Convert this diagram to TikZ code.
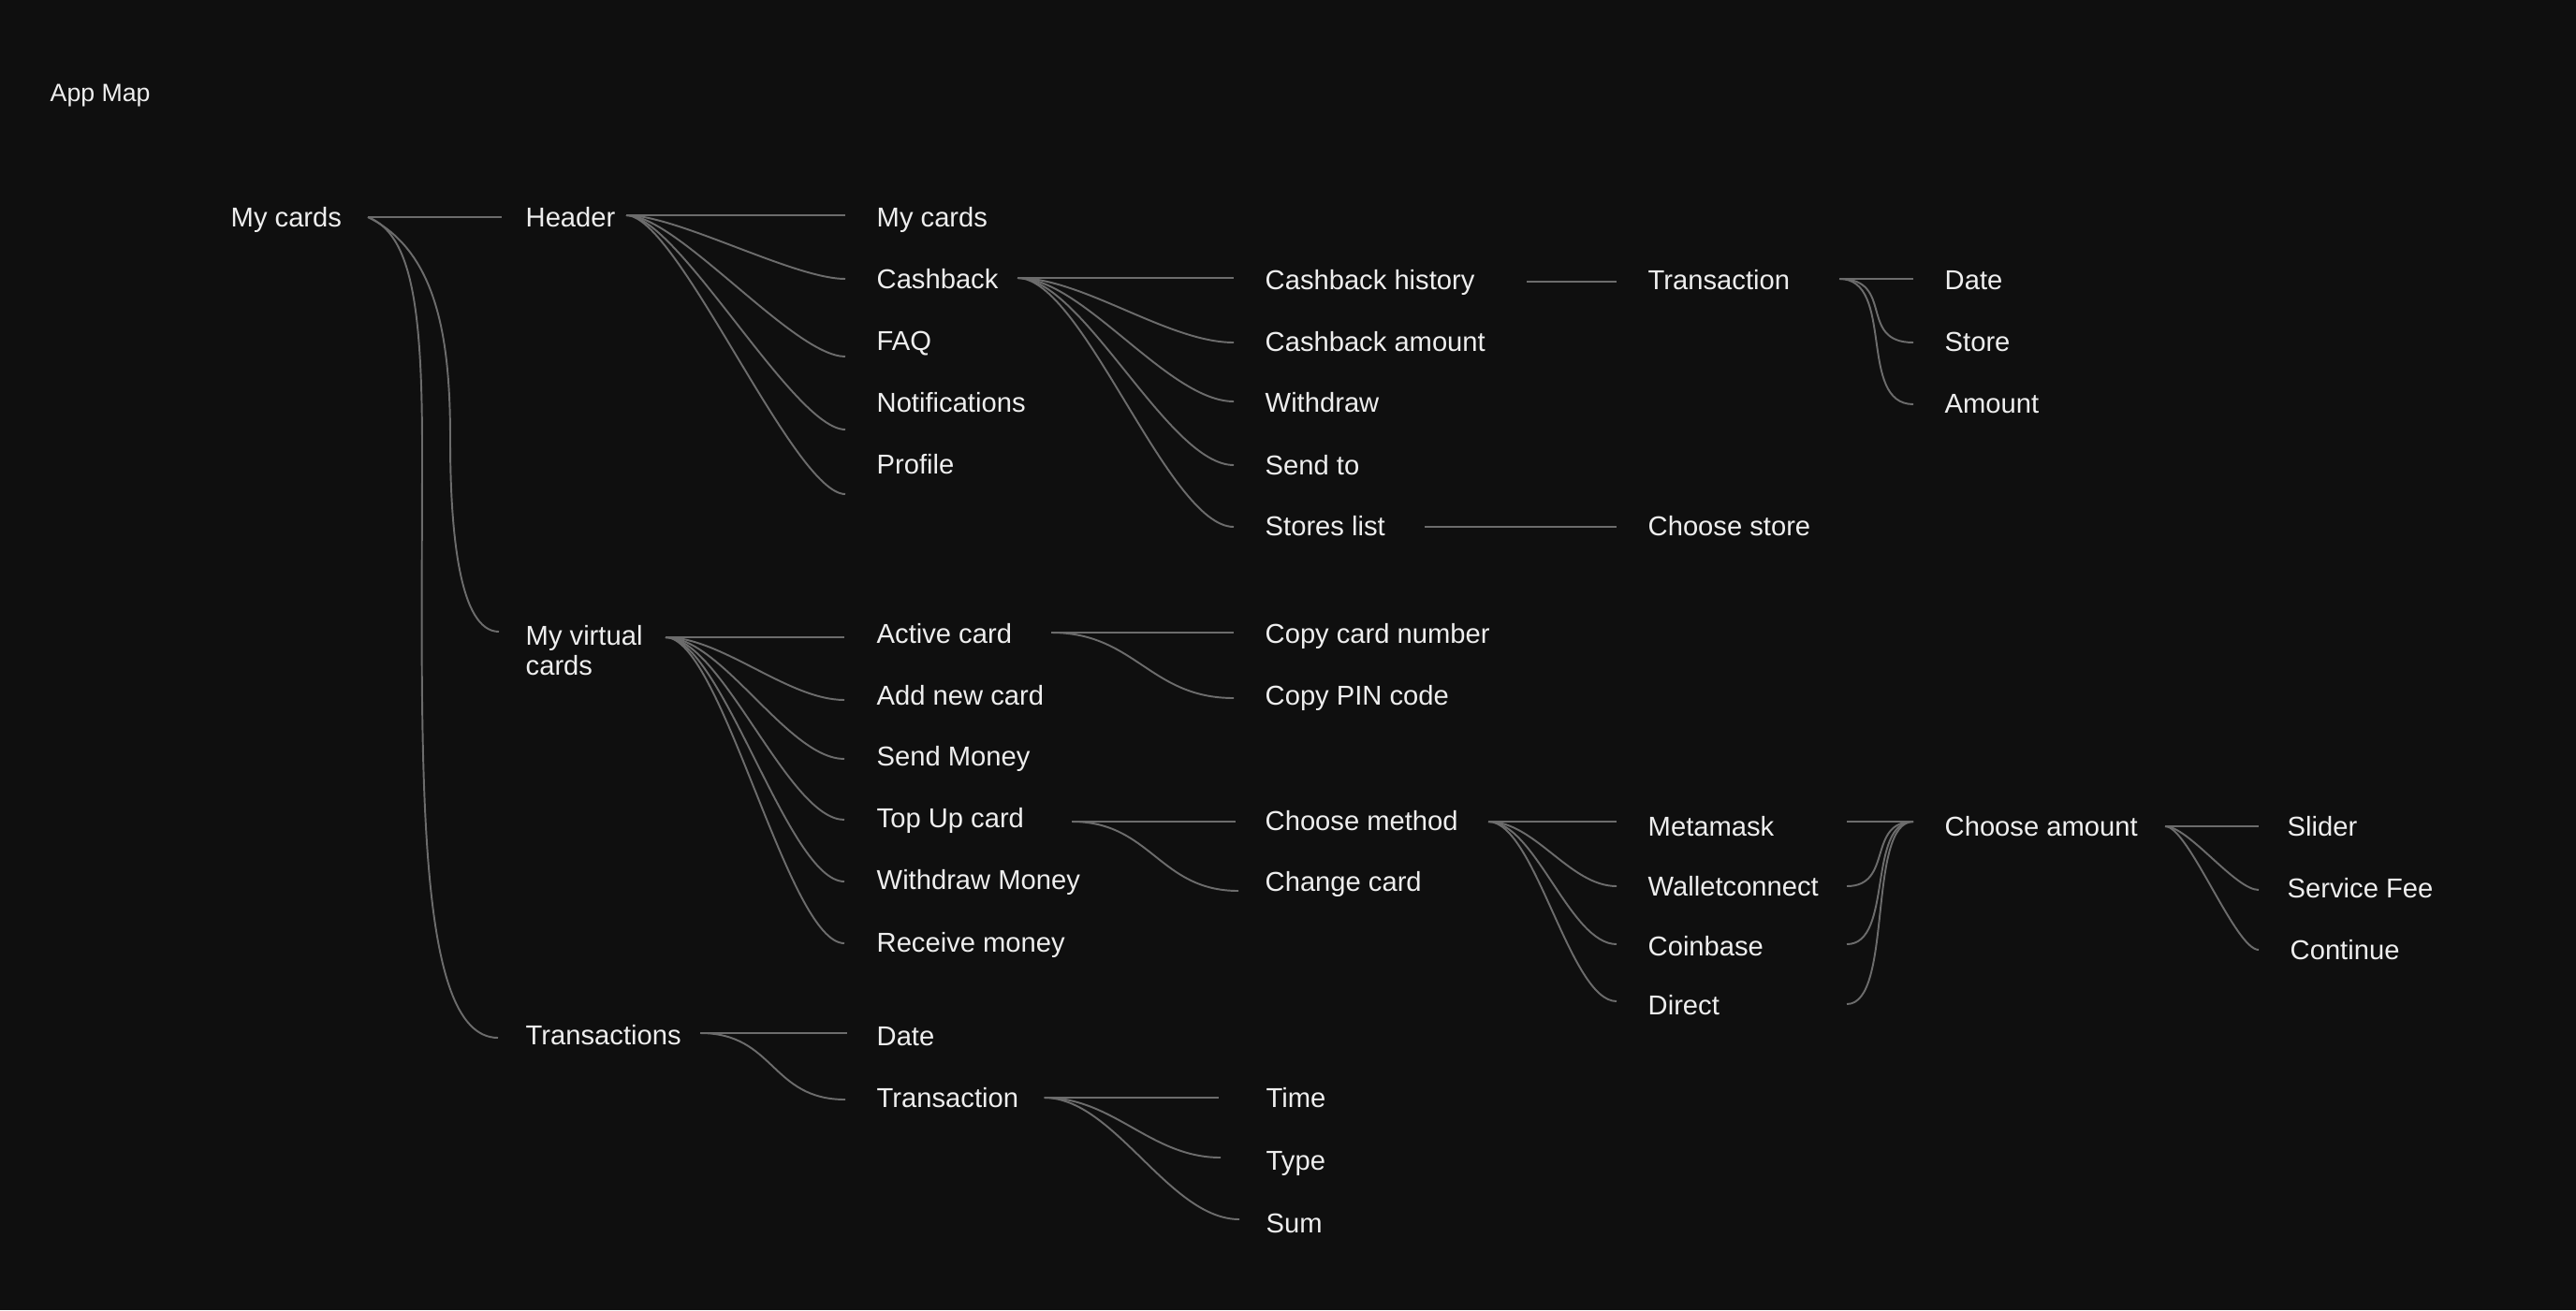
\documentclass[tikz,border=0pt]{standalone}
\usepackage{fontspec}
\setmainfont{Liberation Sans}
\definecolor{bgdark}{RGB}{15,15,15}
\definecolor{wire}{RGB}{108,108,108}
\definecolor{ink}{RGB}{238,238,238}
\tikzset{
  item/.style={anchor=base west, inner sep=0pt, text=ink,
    font=\fontsize{8.3}{9.2}\selectfont},
  link/.style={draw=wire, line width=0.55pt},
}
\begin{document}
\begin{tikzpicture}
  \fill[bgdark] (0,0) rectangle (27.52,-14);
  \useasboundingbox (0,0) rectangle (27.52,-14);

  % labels
  \node[item, font=\fontsize{7.6}{9}\selectfont] (title) at (0.53,-1.08) {App Map};
  \node[item] (mc) at (2.46,-2.42) {My cards};
  \node[item] (hd) at (5.61,-2.42) {Header};
  \node[item, anchor=west, align=left] (mvc) at (5.61,-6.95) {My virtual\\cards};
  \node[item] (tr) at (5.61,-11.16) {Transactions};

  \node[item] (hmy) at (9.36,-2.42) {My cards};
  \node[item] (cb) at (9.36,-3.08) {Cashback};
  \node[item] (faq) at (9.36,-3.74) {FAQ};
  \node[item] (nt) at (9.36,-4.40) {Notifications};
  \node[item] (pf) at (9.36,-5.06) {Profile};
  \node[item] (ac) at (9.36,-6.87) {Active card};
  \node[item] (anc) at (9.36,-7.53) {Add new card};
  \node[item] (sm) at (9.36,-8.18) {Send Money};
  \node[item] (tu) at (9.36,-8.84) {Top Up card};
  \node[item] (wm) at (9.36,-9.50) {Withdraw Money};
  \node[item] (rm) at (9.36,-10.17) {Receive money};
  \node[item] (dt) at (9.36,-11.17) {Date};
  \node[item] (tx) at (9.36,-11.83) {Transaction};

  \node[item] (cbh) at (13.51,-3.09) {Cashback history};
  \node[item] (cba) at (13.51,-3.75) {Cashback amount};
  \node[item] (wd) at (13.51,-4.40) {Withdraw};
  \node[item] (st) at (13.51,-5.07) {Send to};
  \node[item] (sl) at (13.51,-5.72) {Stores list};
  \node[item] (ccn) at (13.51,-6.87) {Copy card number};
  \node[item] (cpc) at (13.51,-7.53) {Copy PIN code};
  \node[item] (cm) at (13.51,-8.87) {Choose method};
  \node[item] (cc) at (13.51,-9.52) {Change card};
  \node[item] (tm) at (13.52,-11.83) {Time};
  \node[item] (ty) at (13.52,-12.50) {Type};
  \node[item] (sum) at (13.52,-13.17) {Sum};

  \node[item] (ctr) at (17.60,-3.09) {Transaction};
  \node[item] (cs) at (17.60,-5.72) {Choose store};
  \node[item] (mm) at (17.60,-8.93) {Metamask};
  \node[item] (wc) at (17.60,-9.57) {Walletconnect};
  \node[item] (cbs) at (17.60,-10.21) {Coinbase};
  \node[item] (dr) at (17.60,-10.84) {Direct};

  \node[item] (dd) at (20.77,-3.09) {Date};
  \node[item] (ds) at (20.77,-3.75) {Store};
  \node[item] (da) at (20.77,-4.41) {Amount};
  \node[item] (ca) at (20.77,-8.93) {Choose amount};

  \node[item] (sld) at (24.43,-8.93) {Slider};
  \node[item] (sf) at (24.43,-9.59) {Service Fee};
  \node[item] (cn) at (24.46,-10.25) {Continue};

  % fork points
  \coordinate (mc-out) at (3.93,-2.32);
  \coordinate (hd-out) at (6.69,-2.30);
  \coordinate (cb-out) at (10.87,-2.97);
  \coordinate (cbh-out) at (16.31,-3.01);
  \coordinate (sl-out) at (15.22,-5.63);
  \coordinate (ctr-out) at (19.65,-2.98);
  \coordinate (mvc-out) at (7.11,-6.81);
  \coordinate (ac-out) at (11.23,-6.76);
  \coordinate (tu-out) at (11.45,-8.78);
  \coordinate (cm-out) at (15.90,-8.78);
  \coordinate (ca-in) at (20.44,-8.78);
  \coordinate (ca-out) at (23.13,-8.83);
  \coordinate (tr-out) at (7.48,-11.04);
  \coordinate (tx-out) at (11.155,-11.73);
  \foreach \n/\y in {mm/8.78, wc/9.47, cbs/10.09, dr/10.73}
    \coordinate (\n-out) at (19.73,-\y);

  % line ends
  \foreach \n/\x/\y in {hd/5.36/2.32, mvc/5.33/6.75, tr/5.32/11.09,
      hmy/9.03/2.30, cb/9.03/2.98, faq/9.03/3.81, nt/9.03/4.59, pf/9.03/5.28,
      cbh/13.18/2.97, cba/13.18/3.66, wd/13.18/4.29, st/13.18/4.97, sl/13.18/5.63,
      ctr/17.27/3.01, cs/17.27/5.63,
      dd/20.44/2.98, ds/20.44/3.66, da/20.44/4.32,
      ac/9.02/6.81, anc/9.02/7.48, sm/9.02/8.11, tu/9.02/8.76, wm/9.02/9.42, rm/9.02/10.08,
      ccn/13.18/6.76, cpc/13.18/7.46, cm/13.20/8.78, cc/13.23/9.52,
      mm/17.27/8.78, wc/17.27/9.47, cbs/17.27/10.09, dr/17.27/10.70,
      sld/24.13/8.83, sf/24.13/9.51, cn/24.13/10.15,
      dt/9.05/11.04, tx/9.03/11.75, tm/13.015/11.73, ty/13.04/12.37, sum/13.24/13.03}
    \coordinate (\n-in) at (\x,-\y);

  % my cards
  \draw[link] (mc-out) -- (hd-in);
  \draw[link] (mc-out) .. controls (4.70,-2.70) and (4.81,-3.70) .. (4.81,-4.70)
    .. controls (4.81,-5.70) and (4.91,-6.75) .. (mvc-in);
  \draw[link] (mc-out) .. controls (4.40,-2.50) and (4.51,-3.30) .. (4.51,-4.80)
    .. controls (4.51,-8.00) and (4.40,-11.09) .. (tr-in);

  % header
  \draw[link] (hd-out) -- (hmy-in);
  \foreach \n in {cb,faq,nt,pf}
    \draw[link] (hd-out) .. controls +(.55,0) and +(-.55,0) .. (\n-in);

  % cashback
  \draw[link] (cb-out) -- (cbh-in);
  \foreach \n in {cba,wd,st,sl}
    \draw[link] (cb-out) .. controls +(.7,0) and +(-.7,0) .. (\n-in);
  \draw[link] (cbh-out) -- (ctr-in);
  \draw[link] (sl-out) -- (cs-in);
  \draw[link] (ctr-out) -- (dd-in);
  \foreach \n in {ds,da}
    \draw[link] (ctr-out) .. controls +(.6,0) and +(-.6,0) .. (\n-in);

  % my virtual cards
  \draw[link] (mvc-out) -- (ac-in);
  \foreach \n in {anc,sm,tu,wm,rm}
    \draw[link] (mvc-out) .. controls +(.6,0) and +(-.6,0) .. (\n-in);
  \draw[link] (ac-out) -- (ccn-in);
  \draw[link] (ac-out) .. controls +(.9,0) and +(-.9,0) .. (cpc-in);
  \draw[link] (tu-out) -- (cm-in);
  \draw[link] (tu-out) .. controls +(.85,0) and +(-.85,0) .. (cc-in);
  \draw[link] (cm-out) -- (mm-in);
  \foreach \n in {wc,cbs,dr}
    \draw[link] (cm-out) .. controls +(.5,0) and +(-.5,0) .. (\n-in);
  \draw[link] (mm-out) -- (ca-in);
  \foreach \n in {wc,cbs,dr}
    \draw[link] (\n-out) .. controls +(.5,0) and +(-.5,0) .. (ca-in);
  \draw[link] (ca-out) -- (sld-in);
  \foreach \n in {sf,cn}
    \draw[link] (ca-out) .. controls +(.25,0) and +(-.25,0) .. (\n-in);

  % transactions
  \draw[link] (tr-out) -- (dt-in);
  \draw[link] (tr-out) .. controls +(.8,0) and +(-.8,0) .. (tx-in);
  \draw[link] (tx-out) -- (tm-in);
  \foreach \n in {ty,sum}
    \draw[link] (tx-out) .. controls +(.75,0) and +(-.75,0) .. (\n-in);
\end{tikzpicture}
\end{document}
